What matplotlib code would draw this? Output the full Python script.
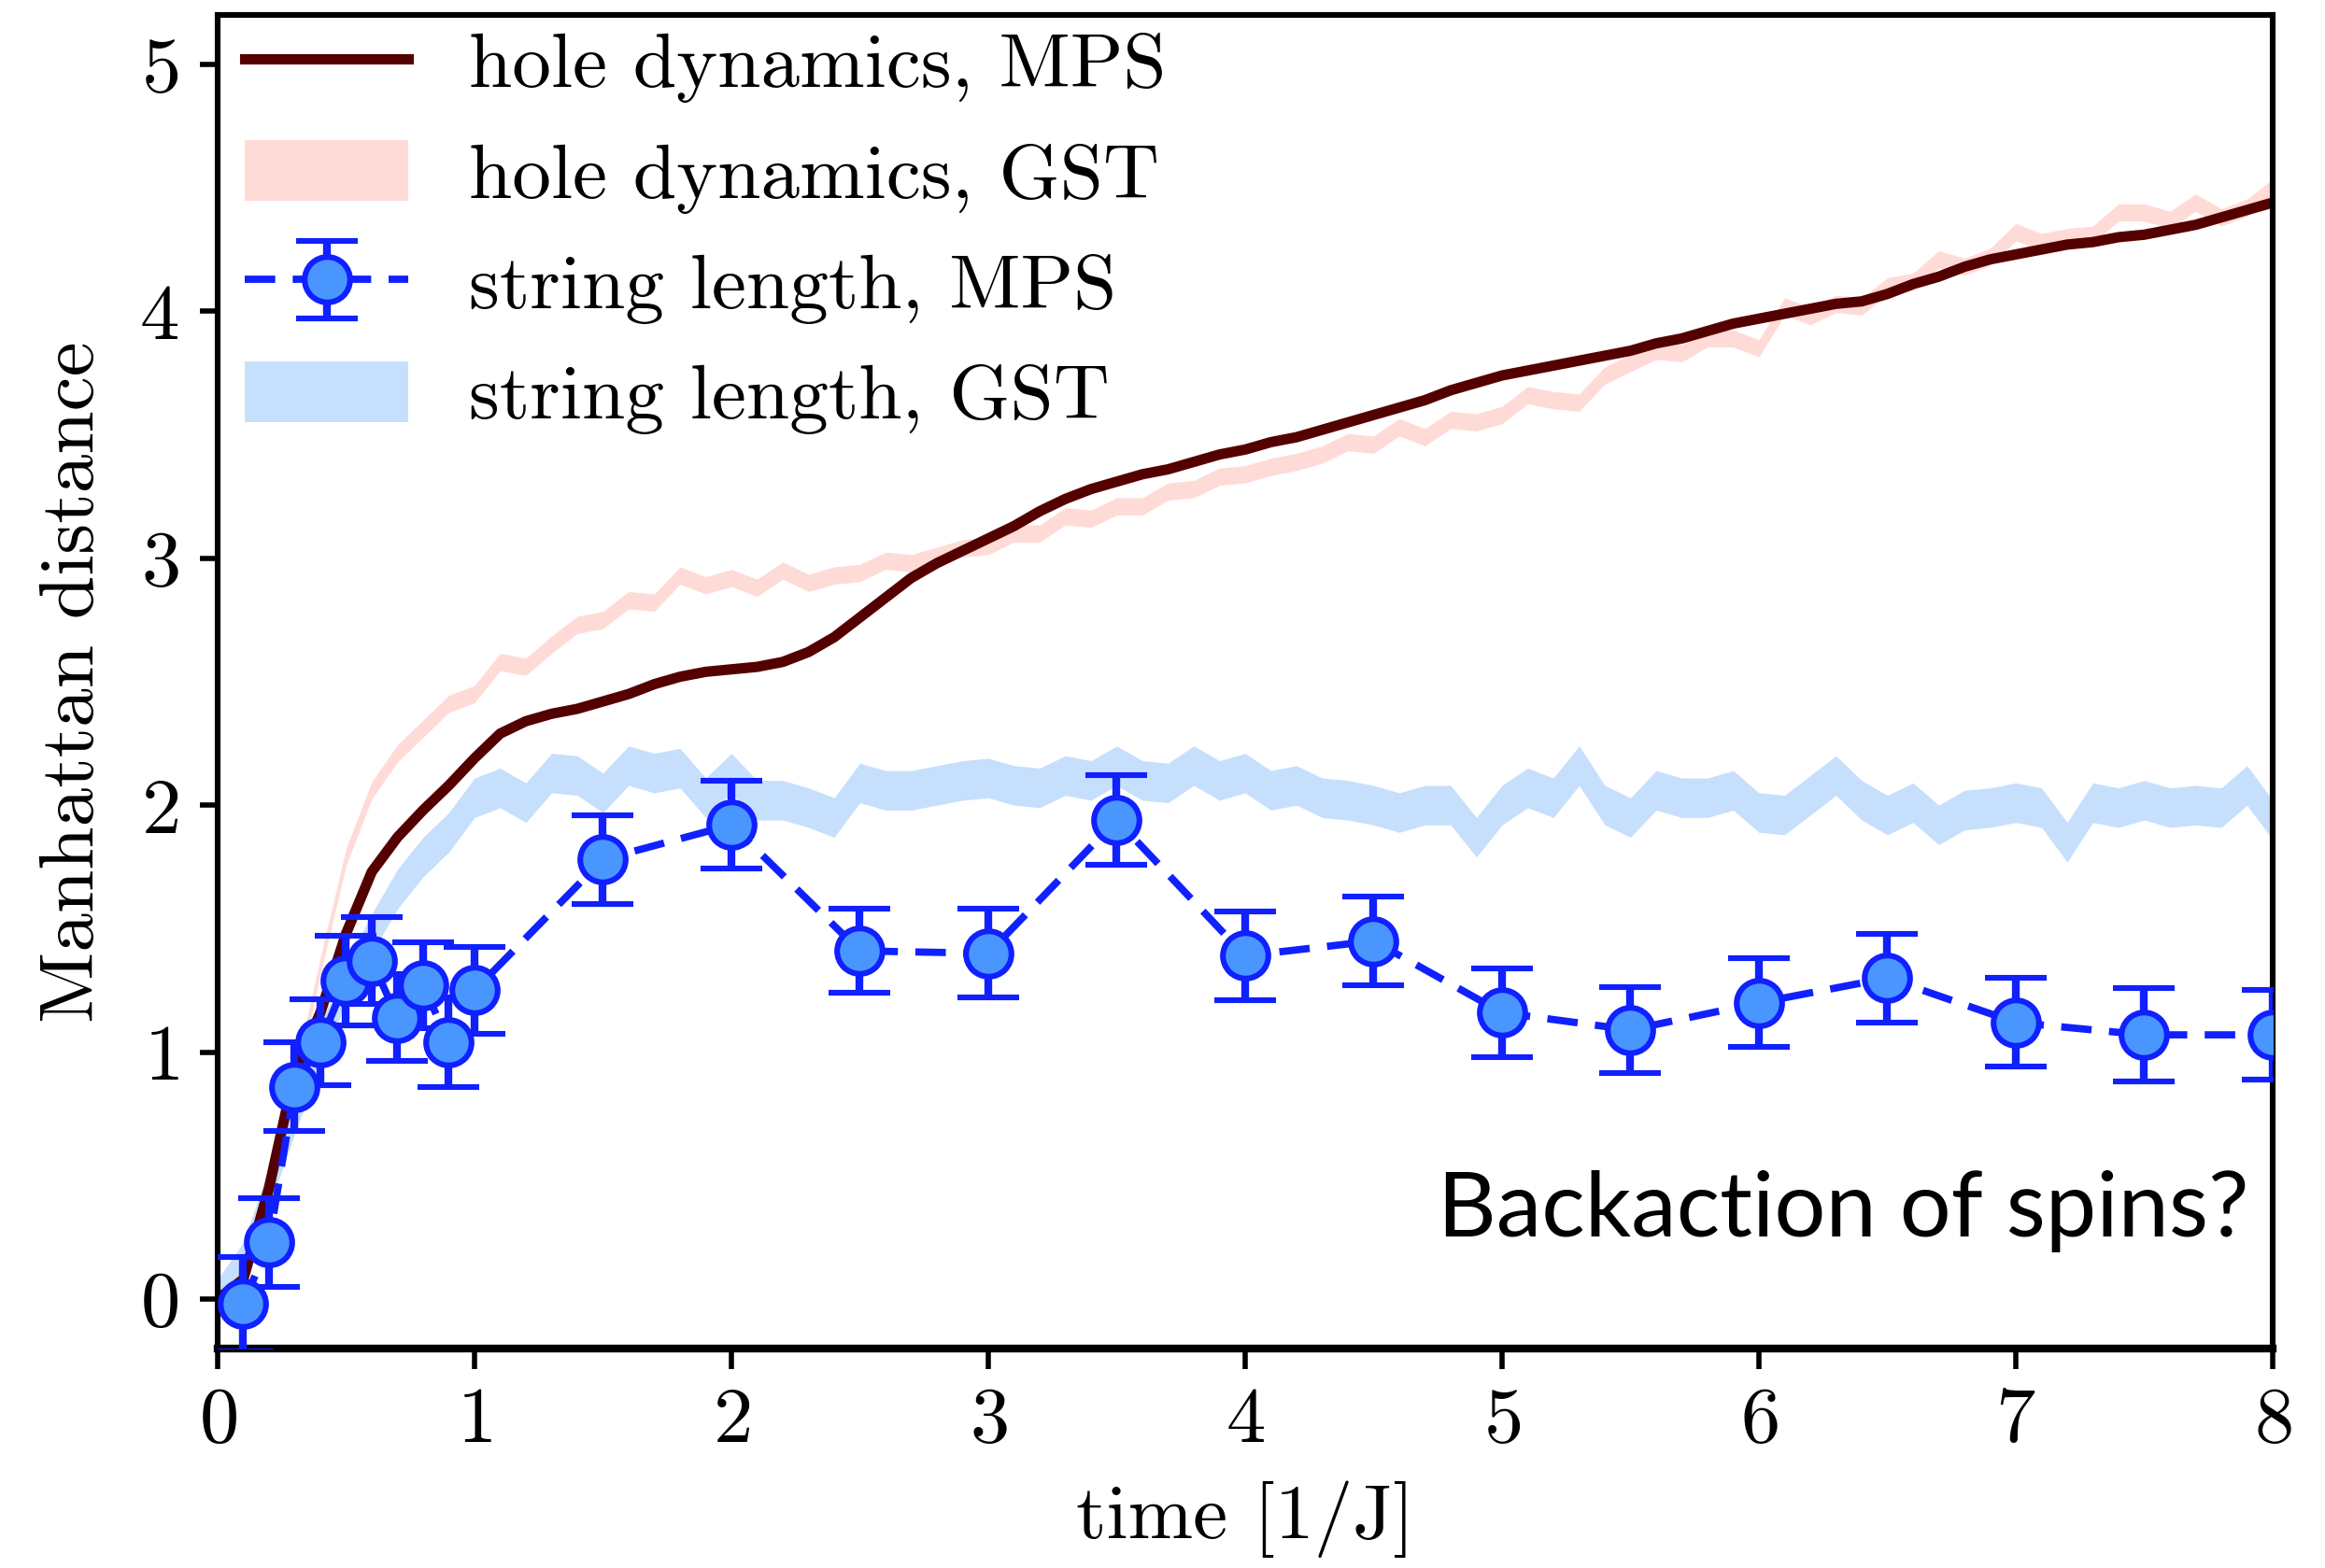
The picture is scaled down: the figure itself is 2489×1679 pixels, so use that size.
import numpy as np
import matplotlib
matplotlib.use("Agg")
import matplotlib.pyplot as plt

plt.rcParams["font.family"] = "cmr10"
plt.rcParams["mathtext.fontset"] = "cm"
plt.rcParams["axes.formatter.use_mathtext"] = True

# time grid of the continuous curves (step 0.1 J^-1)
t = np.round(np.arange(0, 8.01, 0.1), 1)

# hole dynamics, MPS (smooth curve)
hole_mps = [0.00, 0.08, 0.45, 0.92, 1.16, 1.48, 1.73, 1.87, 1.98, 2.08,
            2.19, 2.29, 2.34, 2.37, 2.39, 2.42, 2.45, 2.49, 2.52, 2.54,
            2.55, 2.56, 2.58, 2.62, 2.68, 2.76, 2.84, 2.92, 2.98, 3.03,
            3.08, 3.13, 3.19, 3.24, 3.28, 3.31, 3.34, 3.36, 3.39, 3.42,
            3.44, 3.47, 3.49, 3.52, 3.55, 3.58, 3.61, 3.64, 3.68, 3.71,
            3.74, 3.76, 3.78, 3.80, 3.82, 3.84, 3.87, 3.89, 3.92, 3.95,
            3.97, 3.99, 4.01, 4.03, 4.04, 4.07, 4.11, 4.14, 4.18, 4.21,
            4.23, 4.25, 4.27, 4.28, 4.30, 4.31, 4.33, 4.35, 4.38, 4.41,
            4.44]

# hole dynamics, GST (band centre)
hole_gst = [0.00, 0.10, 0.45, 0.88, 1.35, 1.79, 2.06, 2.21, 2.31, 2.41,
            2.45, 2.58, 2.56, 2.65, 2.73, 2.75, 2.83, 2.82, 2.93, 2.89,
            2.92, 2.88, 2.95, 2.90, 2.93, 2.94, 2.99, 2.98, 3.01, 3.04,
            3.05, 3.10, 3.10, 3.17, 3.16, 3.21, 3.21, 3.27, 3.28, 3.33,
            3.34, 3.37, 3.39, 3.42, 3.47, 3.46, 3.53, 3.49, 3.56, 3.55,
            3.58, 3.66, 3.64, 3.63, 3.74, 3.79, 3.84, 3.83, 3.89, 3.89,
            3.85, 4.02, 3.98, 4.03, 4.02, 4.10, 4.12, 4.21, 4.18, 4.22,
            4.32, 4.28, 4.30, 4.31, 4.40, 4.40, 4.37, 4.44, 4.38, 4.42,
            4.50]
hole_gst_err = 0.035

# string length, GST (band centre)
string_gst = [0.00, 0.15, 0.45, 0.75, 1.03, 1.28, 1.48, 1.66, 1.79, 1.89,
              2.03, 2.07, 2.01, 2.13, 2.12, 2.05, 2.16, 2.13, 2.15, 2.03,
              2.13, 2.02, 2.02, 1.99, 1.95, 2.09, 2.06, 2.06, 2.08, 2.10,
              2.11, 2.08, 2.07, 2.12, 2.10, 2.16, 2.10, 2.09, 2.16, 2.10,
              2.13, 2.06, 2.08, 2.03, 2.02, 2.00, 1.97, 2.00, 2.00, 1.87,
              2.00, 2.07, 2.03, 2.16, 2.00, 1.95, 2.06, 2.03, 2.03, 2.06,
              1.97, 1.96, 2.04, 2.12, 2.02, 1.96, 2.01, 1.92, 1.98, 1.99,
              2.01, 1.99, 1.85, 2.01, 1.99, 2.02, 1.99, 2.00, 1.99, 2.08,
              1.94]
string_gst_err = 0.08

# string length, MPS with error bars
t_mps = [0.1, 0.2, 0.3, 0.4, 0.5, 0.6, 0.7, 0.8, 0.9, 1.0,
         1.5, 2.0, 2.5, 3.0, 3.5, 4.0, 4.5, 5.0, 5.5, 6.0, 6.5, 7.0, 7.5, 8.0]
string_mps = [-0.02, 0.23, 0.86, 1.04, 1.29, 1.37, 1.14, 1.27, 1.04, 1.25,
              1.78, 1.92, 1.41, 1.40, 1.94, 1.39, 1.45, 1.16, 1.09, 1.20,
              1.30, 1.12, 1.07, 1.07]
string_mps_err = [0.19, 0.18, 0.18, 0.175, 0.18, 0.175, 0.175, 0.175, 0.18, 0.175,
                  0.18, 0.178, 0.17, 0.18, 0.18, 0.18, 0.18, 0.18, 0.175, 0.18,
                  0.18, 0.18, 0.19, 0.18]

fig = plt.figure(figsize=(12.445, 8.395), dpi=200)
ax = fig.add_axes([0.0936, 0.1400, 0.8839, 0.8505])

hg = np.array(hole_gst)
sg = np.array(string_gst)
ax.fill_between(t, hg - hole_gst_err, hg + hole_gst_err, color="#ffdbd7",
                lw=0, label="hole dynamics, GST", zorder=1)
ax.fill_between(t, sg - string_gst_err, sg + string_gst_err, color="#c6dffd",
                lw=0, label="string length, GST", zorder=1)
ax.plot(t, hole_mps, color="#550000", lw=4.0, label="hole dynamics, MPS", zorder=2)
ax.errorbar(t_mps, string_mps, yerr=string_mps_err, fmt="o", ls="--", dashes=(4.2, 2.4),
            color="#1020ff", mfc="#4a96ff", mec="#1020ff", ms=17.5, mew=2.2,
            lw=2.8, elinewidth=3.0, capsize=12, capthick=3.0,
            label="string length, MPS", zorder=3)

ax.set_xlim(0, 8)
ax.set_ylim(-0.2, 5.2)
ax.set_xticks(range(0, 9))
ax.set_yticks(range(0, 6))
ax.tick_params(axis="both", direction="out", labelsize=30.5, width=2)
ax.tick_params(axis="x", length=8, pad=7)
ax.tick_params(axis="y", length=7, pad=8)
for side in ["left", "right", "top"]:
    ax.spines[side].set_linewidth(2.2)
ax.spines["bottom"].set_linewidth(3)

ax.set_xlabel("time [1/J]", fontsize=30, labelpad=9)
ax.set_ylabel("Manhattan distance", fontsize=30, labelpad=12)

handles, labels = ax.get_legend_handles_labels()
order = ["hole dynamics, MPS", "hole dynamics, GST", "string length, MPS", "string length, GST"]
hmap = dict(zip(labels, handles))
ax.legend([hmap[k] for k in order], order, loc="upper left",
          bbox_to_anchor=(0.0132, 0.9888), frameon=False,
          fontsize=30, handlelength=2.1, handleheight=0.82, handletextpad=0.78,
          labelspacing=0.48, borderaxespad=0, borderpad=0)

ax.text(0.9886, 0.084, "Backaction of spins?", transform=ax.transAxes,
        ha="right", va="baseline", fontsize=35, family="Lato", weight="normal")

fig.savefig("out.png", dpi=200)
